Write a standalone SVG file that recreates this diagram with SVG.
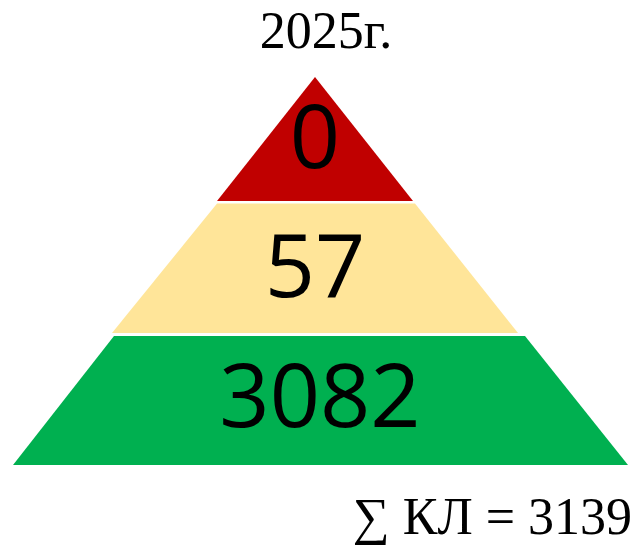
<svg xmlns="http://www.w3.org/2000/svg" width="636" height="549" viewBox="0 0 636 549">
<style>
.num{font-family:"Open Sans","Noto Sans",sans-serif;font-size:88px;fill:#000;text-anchor:middle}
.lbl{font-family:"Liberation Serif","Times New Roman",serif;font-size:52px;fill:#000}
</style>
<rect width="636" height="549" fill="#fff"/>
<g id="title"><text class="lbl" x="326" y="48" text-anchor="middle">2025г.</text></g>
<g id="level-top">
<polygon points="315,77 413,201 217,201" fill="#C00000"/>
<text class="num" x="315" y="168">0</text>
</g>
<g id="level-middle">
<polygon points="217,203.5 415,203.5 518,333 112,333" fill="#FFE599"/>
<text class="num" x="315" y="297">57</text>
</g>
<g id="level-bottom">
<polygon points="114,336 525,336 628,465 13,465" fill="#00B050"/>
<text class="num" x="320" y="427">3082</text>
</g>
<g id="connectors"/>
<g id="sum"><text class="lbl" x="632" y="534" text-anchor="end">∑ КЛ = 3139</text></g>
</svg>
